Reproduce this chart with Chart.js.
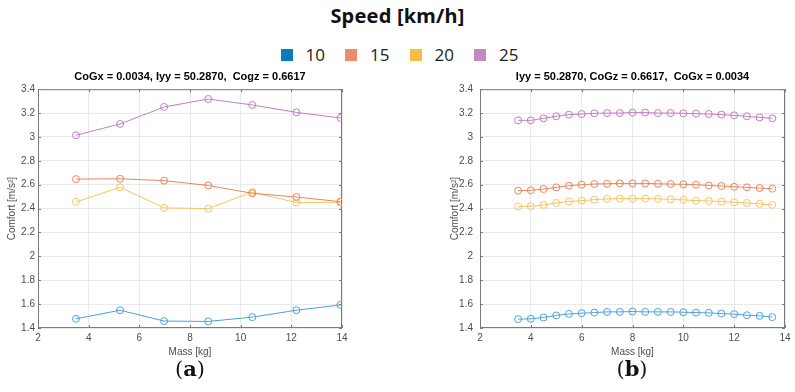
<!DOCTYPE html>
<html lang="en">
<head>
    <meta charset="UTF-8">
    <title>Comfort vs Mass</title>
    <script src="https://cdn.jsdelivr.net/npm/chart.js"></script>
    <style>
        body { margin: 0; background: #fff; width: 795px; height: 392px; position: relative; overflow: hidden; }
        .main-title { position: absolute; top: 2px; left: 0; width: 795px; text-align: center;
            font: bold 20px "Noto Sans", sans-serif; color: #111; letter-spacing: 0.2px; }
        .legend { position: absolute; top: 43px; left: 2px; width: 795px; display: flex; justify-content: center;
            font: 17px "Open Sans", sans-serif; color: #222; }
        .legend span { display: inline-flex; align-items: center; margin: 0 10px; }
        .legend i { display: inline-block; width: 12px; height: 12px; margin-right: 13px; }
        canvas { position: absolute; }
        .sub { position: absolute; top: 356px; width: 60px; text-align: center;
            font: 21px "DejaVu Serif", "Liberation Serif", serif; color: #111; }
        .sub b { font-weight: bold; }
    </style>
</head>
<body>
    <div class="main-title">Speed [km/h]</div>
    <div class="legend" id="legend"></div>

    <canvas id="chartA" width="360" height="300" style="left:0;top:62px"></canvas>
    <canvas id="chartB" width="375" height="300" style="left:420px;top:62px"></canvas>

    <div class="sub" style="left:160px">(<b>a</b>)</div>
    <div class="sub" style="left:602px">(<b>b</b>)</div>

    <script>
        // speeds and colours
        const speeds = ['10', '15', '20', '25'];
        const legendColors = ['#0b7bc1', '#ef8a67', '#f5bd47', '#c18bbf'];
        const lineColors = ['#4aa3df', '#f0845a', '#f8c45e', '#c47bc6'];

        // (a) varying mass, fixed CoG / Iyy
        const massA = [3.5, 5.24, 6.98, 8.72, 10.46, 12.2, 13.94];
        const a10 = [1.477, 1.549, 1.458, 1.455, 1.491, 1.549, 1.593];
        const a15 = [2.647, 2.650, 2.634, 2.594, 2.528, 2.497, 2.458];
        const a20 = [2.456, 2.579, 2.406, 2.400, 2.539, 2.450, 2.453];
        const a25 = [3.014, 3.109, 3.251, 3.318, 3.268, 3.206, 3.159];

        // (b)
        const massB = [3.5, 4, 4.5, 5, 5.5, 6, 6.5, 7, 7.5, 8, 8.5, 9, 9.5, 10, 10.5, 11, 11.5, 12, 12.5, 13, 13.5];
        const b10 = [1.474, 1.477, 1.488, 1.505, 1.518, 1.524, 1.529, 1.535, 1.535, 1.538, 1.535, 1.535, 1.535, 1.532, 1.529, 1.527, 1.521, 1.516, 1.507, 1.502, 1.491];
        const b15 = [2.550, 2.553, 2.564, 2.578, 2.592, 2.600, 2.606, 2.608, 2.611, 2.611, 2.611, 2.608, 2.606, 2.603, 2.600, 2.594, 2.589, 2.583, 2.578, 2.572, 2.567];
        const b20 = [2.417, 2.420, 2.431, 2.447, 2.459, 2.467, 2.475, 2.481, 2.484, 2.484, 2.484, 2.481, 2.478, 2.473, 2.467, 2.464, 2.459, 2.453, 2.447, 2.439, 2.431];
        const b25 = [3.139, 3.139, 3.156, 3.173, 3.187, 3.192, 3.198, 3.200, 3.200, 3.204, 3.204, 3.200, 3.200, 3.198, 3.195, 3.192, 3.187, 3.181, 3.173, 3.164, 3.156];

        const xTicks = [2, 4, 6, 8, 10, 12, 14];
        const yTicks = [1.4, 1.6, 1.8, 2, 2.2, 2.4, 2.6, 2.8, 3, 3.2, 3.4];

        // legend
        const legendEl = document.getElementById('legend');
        speeds.forEach((s, i) => {
            legendEl.innerHTML += '<span><i style="background:' + legendColors[i] + '"></i>' + s + '</span>';
        });

        // matlab-ish box with inward ticks
        const boxPlugin = {
            id: 'box',
            beforeDatasetsDraw(chart) {
                const { ctx, chartArea: a, scales } = chart;
                ctx.save();
                ctx.strokeStyle = '#7a7a7a';
                ctx.lineWidth = 1;
                ctx.strokeRect(a.left + 0.5, a.top + 0.5, a.right - a.left - 1, a.bottom - a.top - 1);
                ctx.beginPath();
                xTicks.forEach(v => {
                    const x = Math.round(scales.x.getPixelForValue(v)) + 0.5;
                    ctx.moveTo(x, a.bottom); ctx.lineTo(x, a.bottom - 3);
                    ctx.moveTo(x, a.top); ctx.lineTo(x, a.top + 3);
                });
                yTicks.forEach(v => {
                    const y = Math.round(scales.y.getPixelForValue(v)) + 0.5;
                    ctx.moveTo(a.left, y); ctx.lineTo(a.left + 3, y);
                    ctx.moveTo(a.right, y); ctx.lineTo(a.right - 3, y);
                });
                ctx.stroke();
                ctx.restore();
            }
        };

        function makeDatasets(xs, series) {
            return series.map((ys, i) => ({
                label: speeds[i],
                data: xs.map((x, k) => ({ x: x, y: ys[k] })),
                borderColor: lineColors[i],
                borderWidth: 1,
                pointStyle: 'circle',
                pointRadius: 3.5,
                pointBorderWidth: 1,
                pointBorderColor: lineColors[i],
                pointBackgroundColor: 'rgba(0,0,0,0)',
                tension: 0
            }));
        }

        function makeChart(id, xs, series, title, yWidth, yTitlePad, yTickPad, padRight) {
            const tickFont = { family: 'Liberation Sans', size: 10 };
            return new Chart(document.getElementById(id), {
                type: 'line',
                data: { datasets: makeDatasets(xs, series) },
                plugins: [boxPlugin],
                options: {
                    responsive: false,
                    animation: false,
                    layout: { padding: { left: 0, right: padRight, top: 0, bottom: 0 } },
                    plugins: {
                        legend: { display: false },
                        tooltip: { enabled: false },
                        title: {
                            display: true, text: title, fullSize: false, color: '#000',
                            font: { family: 'Liberation Sans', size: 11, weight: 'bold' },
                            padding: { top: 8, bottom: 6 }
                        }
                    },
                    scales: {
                        x: {
                            type: 'linear', min: 2, max: 14,
                            afterBuildTicks: s => { s.ticks = xTicks.map(v => ({ value: v })); },
                            afterFit: s => { s.height = 34; },
                            grid: { color: '#e9e9e9', drawTicks: false },
                            border: { display: false },
                            ticks: { color: '#4d4d4d', font: tickFont, padding: 4, maxRotation: 0 },
                            title: { display: true, text: 'Mass [kg]', color: '#4d4d4d', font: tickFont, padding: { top: 0, bottom: 4 } }
                        },
                        y: {
                            min: 1.4, max: 3.4,
                            afterBuildTicks: s => { s.ticks = yTicks.map(v => ({ value: v })); },
                            afterFit: s => { s.width = yWidth; },
                            grid: { color: '#e9e9e9', drawTicks: false },
                            border: { display: false },
                            ticks: { color: '#4d4d4d', font: tickFont, padding: yTickPad, callback: v => String(+v.toFixed(2)) },
                            title: { display: true, text: 'Comfort [m/s\u00b2]', color: '#4d4d4d', font: tickFont, padding: { top: yTitlePad, bottom: 0 } }
                        }
                    }
                }
            });
        }

        makeChart('chartA', massA, [a10, a15, a20, a25],
            'CoGx = 0.0034, Iyy = 50.2870,  Cogz = 0.6617', 38, 6, 3, 18);
        makeChart('chartB', massB, [b10, b15, b20, b25],
            'Iyy = 50.2870, CoGz = 0.6617,  CoGx = 0.0034', 60, 29, 7, 10);
    </script>
</body>
</html>
